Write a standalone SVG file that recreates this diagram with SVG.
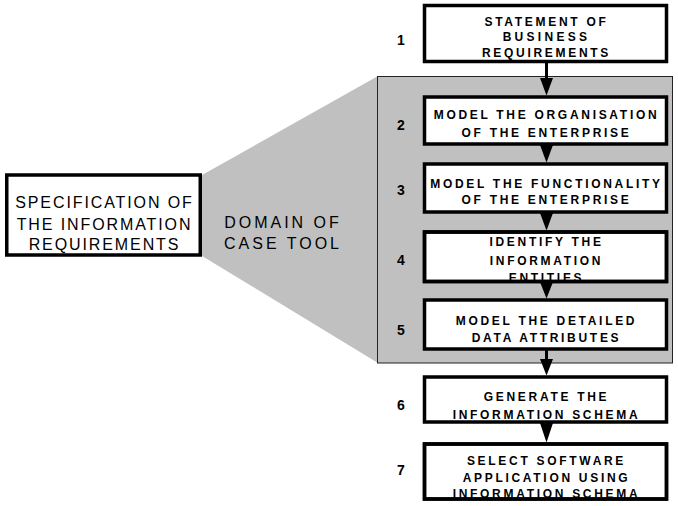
<svg xmlns="http://www.w3.org/2000/svg" width="678" height="506" viewBox="0 0 678 506">
<style>
.bg{fill:#ffffff}
.dom{fill:#c0c0c0;stroke:none}
.domr{fill:#c0c0c0;stroke:#222;stroke-width:1}
.box{fill:#ffffff;stroke:#000;stroke-width:3.5}
.bs{fill:none;stroke:#000;stroke-width:3.5}
.t{font-family:"Liberation Sans",Arial,sans-serif;font-weight:bold;font-size:12px;letter-spacing:2.7px;text-anchor:middle;fill:#000}
.n{font-family:"Liberation Sans",Arial,sans-serif;font-weight:bold;font-size:14px;text-anchor:middle;fill:#000}
.l{font-family:"Liberation Sans",Arial,sans-serif;font-size:16px;letter-spacing:1.9px;text-anchor:middle;fill:#000}
.d{font-family:"Liberation Sans",Arial,sans-serif;font-size:16px;letter-spacing:3px;text-anchor:middle;fill:#000}
.c line{stroke:#000;stroke-width:3}
.c polygon{fill:#000}
</style>
<rect class="bg" x="0" y="0" width="678" height="506"/>
<g id="domain">
<polygon class="dom" points="202,175 378,76 378,363 202,256"/>
<rect class="domr" x="377.5" y="76.5" width="295" height="286.5"/>
<text class="d" x="283" y="228">DOMAIN OF</text>
<text class="d" x="283" y="249">CASE TOOL</text>
</g>
<g id="spec">
<rect class="box" x="6.75" y="175" width="193.5" height="80"/>
<text class="l" x="104.5" y="208">SPECIFICATION OF</text>
<text class="l" x="104.5" y="229.5">THE INFORMATION</text>
<text class="l" x="104.5" y="250">REQUIREMENTS</text>
</g>
<g class="c" id="connectors">
<line x1="546.5" y1="62" x2="546.5" y2="80"/>
<polygon points="540,78 553,78 546.5,95.5"/>
<polygon points="540,145 553,145 546.5,162.5"/>
<polygon points="540,213 553,213 546.5,230.5"/>
<polygon points="540,282 553,282 546.5,298.5"/>
<line x1="546.5" y1="350" x2="546.5" y2="361"/>
<polygon points="540,359 553,359 546.5,375.5"/>
<polygon points="540,423 553,423 546.5,442.5"/>
</g>
<g id="step1">
<rect class="box" x="424.5" y="5.5" width="242" height="56"/>
<text class="t" x="546.5" y="25.5">STATEMENT OF</text>
<text class="t" x="546.5" y="40.5" style="letter-spacing:3.3px">BUSINESS</text>
<text class="t" x="546.5" y="57">REQUIREMENTS</text>
<text class="n" x="401" y="45">1</text>
</g>
<g id="step2">
<rect class="box" x="424.5" y="97" width="242" height="47"/>
<text class="t" x="546.5" y="118.5">MODEL THE ORGANISATION</text>
<text class="t" x="546.5" y="137">OF THE ENTERPRISE</text>
<text class="n" x="401" y="130">2</text>
</g>
<g id="step3">
<rect class="box" x="424.5" y="164" width="242" height="48"/>
<text class="t" x="546.5" y="187.5">MODEL THE FUNCTIONALITY</text>
<text class="t" x="546.5" y="204">OF THE ENTERPRISE</text>
<text class="n" x="401" y="195">3</text>
</g>
<g id="step4">
<rect class="box" x="424.5" y="232" width="242" height="49.5"/>
<text class="t" x="546.5" y="245.5">IDENTIFY THE</text>
<text class="t" x="546.5" y="264.5">INFORMATION</text>
<text class="t" x="546.5" y="282">ENTITIES</text>
<rect class="bs" x="424.5" y="232" width="242" height="49.5"/>
<text class="n" x="401" y="265">4</text>
</g>
<g id="step5">
<rect class="box" x="424.5" y="300" width="242" height="49"/>
<text class="t" x="546.5" y="325">MODEL THE DETAILED</text>
<text class="t" x="546.5" y="342">DATA ATTRIBUTES</text>
<text class="n" x="401" y="335">5</text>
</g>
<g id="step6">
<rect class="box" x="424.5" y="377" width="242" height="45"/>
<text class="t" x="546.5" y="401">GENERATE THE</text>
<text class="t" x="546.5" y="419">INFORMATION SCHEMA</text>
<text class="n" x="401" y="410">6</text>
</g>
<g id="step7">
<rect class="box" x="424.5" y="444" width="242" height="55"/>
<text class="t" x="546.5" y="465">SELECT SOFTWARE</text>
<text class="t" x="546.5" y="482">APPLICATION USING</text>
<text class="t" x="546.5" y="497.5">INFORMATION SCHEMA</text>
<rect class="bs" x="424.5" y="444" width="242" height="55"/>
<text class="n" x="401" y="475">7</text>
</g>
</svg>
